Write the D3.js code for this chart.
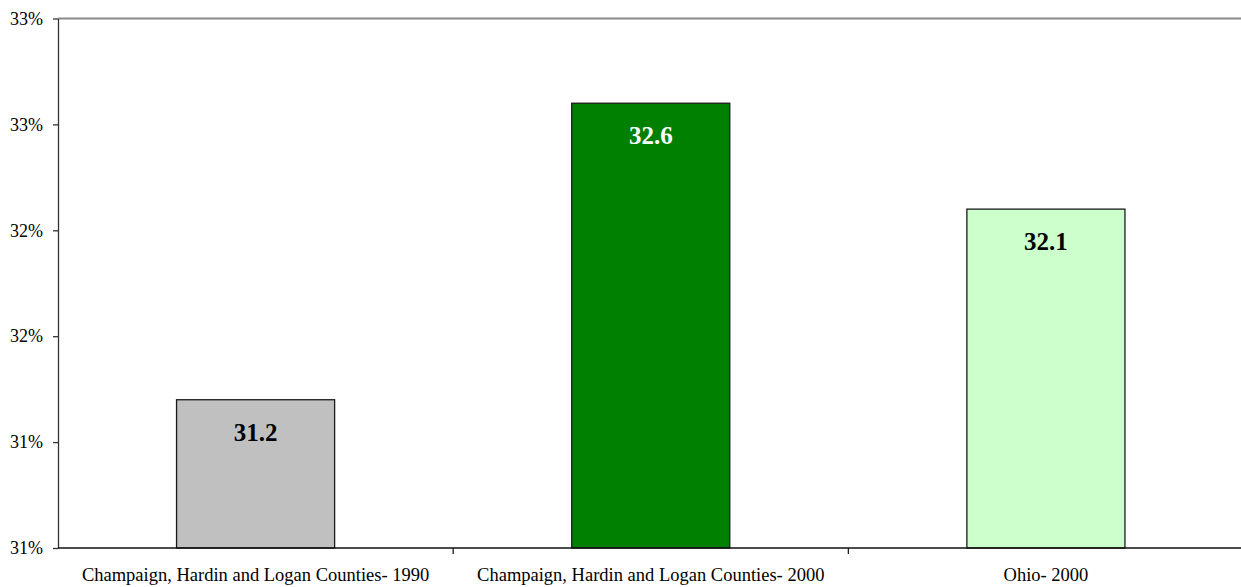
<!DOCTYPE html>
<html>
<head>
<meta charset="utf-8">
<script src="https://cdn.jsdelivr.net/npm/d3@7"></script>
<style>
  html, body { margin: 0; padding: 0; background: #fff; }
  svg { display: block; }
  text { font-family: "Liberation Serif", "Times New Roman", serif; }
</style>
</head>
<body>
<svg id="chart" width="1241" height="587"></svg>
<script>
const categories = [
  "Champaign, Hardin and Logan Counties- 1990",
  "Champaign, Hardin and Logan Counties- 2000",
  "Ohio- 2000"
];
const values = [31.2, 32.6, 32.1];
const barColors = ["#C0C0C0", "#008000", "#CCFFCC"];
const labelColors = ["#000000", "#FFFFFF", "#000000"];
const yTicks = [30.5, 31.0, 31.5, 32.0, 32.5, 33.0];
const yDomain = [30.5, 33.0];

(function () {
const svg = d3.select("#chart");
const plotLeft = 58, plotRight = 1243.5, plotTop = 18.5, plotBottom = 548;

const x = d3.scaleBand().domain(categories).range([plotLeft, plotRight])
  .paddingInner(0.6).paddingOuter(0.3);
const y = d3.scaleLinear().domain(yDomain).range([plotBottom, plotTop]);

// top border (gray)
svg.append("line")
  .attr("x1", plotLeft).attr("x2", 1241)
  .attr("y1", y(yDomain[1])).attr("y2", y(yDomain[1]))
  .attr("stroke", "#8a8a8a").attr("stroke-width", 1.8);

// bars
svg.selectAll("rect.bar").data(values).enter().append("rect")
  .attr("class", "bar")
  .attr("x", (d, i) => x(categories[i]))
  .attr("width", x.bandwidth())
  .attr("y", d => y(d))
  .attr("height", d => y(yDomain[0]) - y(d))
  .attr("fill", (d, i) => barColors[i])
  .attr("stroke", "#1a1a1a").attr("stroke-width", 1.3);

// value labels
svg.selectAll("text.val").data(values).enter().append("text")
  .attr("class", "val")
  .attr("x", (d, i) => x(categories[i]) + x.bandwidth() / 2)
  .attr("y", d => y(d) + 41)
  .attr("text-anchor", "middle")
  .attr("font-size", 25).attr("font-weight", "bold")
  .attr("fill", (d, i) => labelColors[i])
  .text(d => d.toFixed(1));

// y axis
const yAxis = d3.axisLeft(y).tickValues(yTicks)
  .tickFormat(d => Math.round(d) + "%")
  .tickSize(5).tickPadding(10).tickSizeOuter(0);
const gy = svg.append("g").attr("transform", `translate(${plotLeft},0)`).call(yAxis);
gy.select(".domain").attr("stroke", "#333").attr("stroke-width", 1.3);
gy.selectAll(".tick line").attr("stroke", "#333").attr("stroke-width", 1.3);
gy.selectAll(".tick text").attr("font-size", 18).attr("fill", "#000")
  .attr("font-family", "Liberation Serif, serif");

// x axis
svg.append("line")
  .attr("x1", plotLeft).attr("x2", 1241)
  .attr("y1", y(yDomain[0])).attr("y2", y(yDomain[0]))
  .attr("stroke", "#111").attr("stroke-width", 1.5);

const step = x.step();
const boundaries = categories.map(c => x(c) - step * x.paddingOuter()).slice(1);
svg.selectAll("line.xt").data(boundaries).enter().append("line")
  .attr("x1", d => d).attr("x2", d => d)
  .attr("y1", y(yDomain[0])).attr("y2", y(yDomain[0]) + 6)
  .attr("stroke", "#111").attr("stroke-width", 1.2);

svg.selectAll("text.cat").data(categories).enter().append("text")
  .attr("class", "cat")
  .attr("x", d => x(d) + x.bandwidth() / 2)
  .attr("y", 581)
  .attr("text-anchor", "middle")
  .attr("font-size", 18.5).attr("fill", "#000")
  .text(d => d);
})();
</script>
</body>
</html>
